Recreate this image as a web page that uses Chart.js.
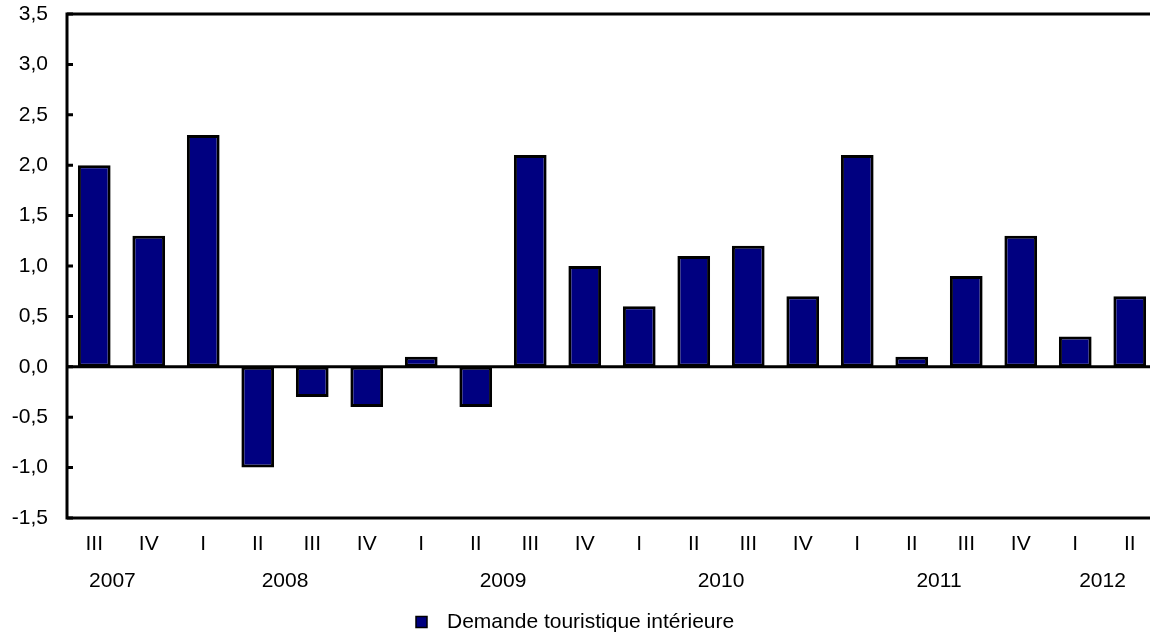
<!DOCTYPE html>
<html>
<head>
<meta charset="utf-8">
<script src="https://cdn.jsdelivr.net/npm/chart.js@4/dist/chart.umd.min.js"></script>
<style>
html, body { margin: 0; padding: 0; overflow: hidden; background: #fff; }
#wrap { width: 1150px; height: 634px; overflow: hidden; position: relative; }
#c { display: block; }
</style>
</head>
<body>
<div id="wrap"><canvas id="c" width="1160" height="634"></canvas></div>
<script>
const quarters = ['III','IV','I','II','III','IV','I','II','III','IV','I','II','III','IV','I','II','III','IV','I','II'];
const quarterYears = ['2007','2007','2008','2008','2008','2008','2009','2009','2009','2009','2010','2010','2010','2010','2011','2011','2011','2011','2012','2012'];
const years = ['2007','2008','2009','2010','2011','2012'];
const seriesName = 'Demande touristique intérieure';
const values = [2.0, 1.3, 2.3, -1.0, -0.3, -0.4, 0.1, -0.4, 2.1, 1.0, 0.6, 1.1, 1.2, 0.7, 2.1, 0.1, 0.9, 1.3, 0.3, 0.7];
const yMin = -1.5, yMax = 3.5, yStep = 0.5;

const FONT = 'Liberation Sans, Arial, sans-serif';
const FS = 21;
const BAR = '#000080';

const framePlugin = {
  id: 'frame',
  afterDatasetsDraw(chart) {
    const ctx = chart.ctx, a = chart.chartArea;
    const y = chart.scales.y, x = chart.scales.x;
    ctx.save();
    ctx.strokeStyle = '#000';
    ctx.lineWidth = 3;
    ctx.lineCap = 'square';
    ctx.beginPath();
    ctx.moveTo(a.left, a.top); ctx.lineTo(a.right + 5, a.top);
    ctx.moveTo(a.left, a.top); ctx.lineTo(a.left, a.bottom);
    ctx.moveTo(a.left, a.bottom); ctx.lineTo(a.right + 5, a.bottom);
    const z = y.getPixelForValue(0);
    ctx.moveTo(a.left, z); ctx.lineTo(a.right + 5, z);
    ctx.stroke();
    ctx.lineCap = 'butt';
    ctx.beginPath();
    y.ticks.forEach(t => {
      const py = y.getPixelForValue(t.value);
      ctx.moveTo(a.left, py); ctx.lineTo(a.left + 6, py);
    });
    ctx.stroke();
    // year labels
    ctx.fillStyle = '#000';
    ctx.font = FS + 'px ' + FONT;
    ctx.textAlign = 'center';
    ctx.textBaseline = 'middle';
    years.forEach(yr => {
      const idx = quarterYears.map((q, i) => q === yr ? i : -1).filter(i => i >= 0);
      let px = idx.reduce((s, i) => s + x.getPixelForValue(i), 0) / idx.length;
      if (idx.length < 4 && idx[0] === 0) px = (x.getPixelForValue(0) * 2 + x.getPixelForValue(1)) / 3;
      ctx.fillText(yr, px, 581);
    });
    // legend
    const ds = chart.data.datasets[0];
    const tw = ctx.measureText(ds.label).width;
    const total = 11 + 20 + tw;
    const lx = Math.round(575 - total / 2);
    const ly = 622;
    ctx.fillStyle = ds.backgroundColor;
    ctx.fillRect(lx, ly - 5.5, 11, 11);
    ctx.lineWidth = 1.5;
    ctx.strokeRect(lx, ly - 5.5, 11, 11);
    ctx.fillStyle = '#000';
    ctx.textAlign = 'left';
    ctx.fillText(ds.label, lx + 31, ly);
    ctx.restore();
  }
};

new Chart(document.getElementById('c'), {
  type: 'bar',
  data: {
    labels: quarters,
    datasets: [{
      label: seriesName,
      data: values,
      backgroundColor: BAR,
      borderColor: '#000',
      borderWidth: 3,
      borderSkipped: false,
      barPercentage: 0.6,
      categoryPercentage: 1.0
    }]
  },
  options: {
    responsive: false,
    animation: false,
    layout: { padding: { top: 14, right: 3, left: 0, bottom: 0 } },
    plugins: { legend: { display: false }, tooltip: { enabled: false } },
    scales: {
      x: {
        grid: { display: false, drawTicks: false },
        border: { display: false },
        ticks: { color: '#000', font: { family: FONT, size: FS }, padding: 14, maxRotation: 0, autoSkip: false },
        afterFit(s) { s.height = 116; s.paddingLeft = 0; s.paddingRight = 0; }
      },
      y: {
        min: yMin, max: yMax,
        grid: { display: false, drawTicks: false },
        border: { display: false },
        ticks: {
          stepSize: yStep,
          color: '#000',
          font: { family: FONT, size: FS },
          padding: 19,
          callback: v => v.toFixed(1).replace('.', ',')
        },
        afterFit(s) { s.width = 67; s.paddingTop = 0; s.paddingBottom = 0; }
      }
    }
  },
  plugins: [framePlugin]
});
</script>
</body>
</html>
